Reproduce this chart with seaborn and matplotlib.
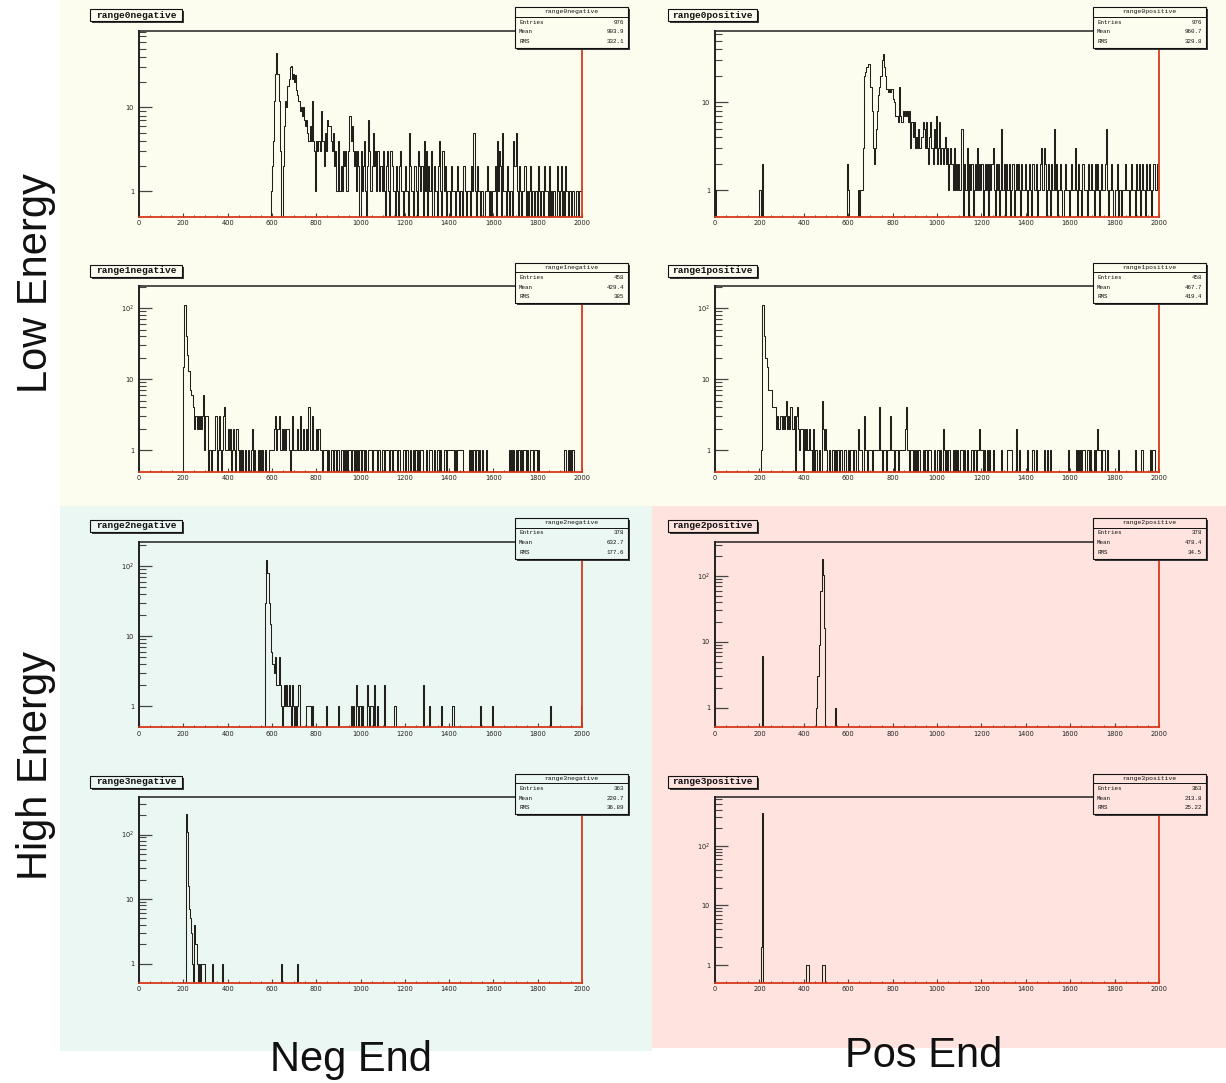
import numpy as np
import pandas as pd
import matplotlib
matplotlib.use("Agg")
import matplotlib.pyplot as plt
from matplotlib.patches import Rectangle
from matplotlib.ticker import MultipleLocator
import seaborn as sns

sns.set_style("white")
plt.rcParams["font.family"] = ["DejaVu Sans"]

# ---------------- data: counts in 5-unit bins, 0..2000 ----------------
BIN_W = 5
X_MAX = 2000

# range0negative (dense from 595)
r0neg_lo = 595
r0neg_counts = [
    1, 2, 4, 12, 25, 44, 25, 12, 3, 0, 0, 2, 6, 12, 10, 18, 22, 30, 31, 22,   # 595-690
    25, 20, 24, 16, 14, 12, 9, 10, 8, 10, 7, 6, 7, 5, 4, 6, 4, 12, 4, 3,      # 695-790
    1, 4, 3, 4, 3, 9, 4, 4, 2, 5, 3, 7, 6, 6, 4, 3, 5, 2, 3, 1,               # 795-890
    1, 4, 1, 2, 1, 3, 2, 3, 1, 1, 3, 8, 4, 6, 3, 2, 3, 1, 3, 2,               # 895-990
    0, 3, 1, 2, 4, 1, 0, 2, 7, 3, 1, 2, 5, 2, 3, 1, 3, 3, 1, 2,               # 995-1090
    1, 3, 1, 0, 2, 3, 1, 0, 3, 2, 1, 1, 0, 2, 1, 0, 2, 3, 1, 0,               # 1095-1190
    1, 2, 1, 1, 0, 5, 2, 1, 0, 2, 2, 1, 0, 3, 2, 1, 2, 0, 4, 1,               # 1195-1290
    3, 0, 2, 1, 1, 3, 0, 2, 1, 1, 0, 2, 4, 1, 0, 3, 1, 2, 0, 1,               # 1295-1390
    1, 1, 0, 2, 1, 1, 0, 1, 2, 1, 0, 1, 1, 0, 2, 1, 0, 1, 1, 1,               # 1395-1490
    0, 2, 1, 5, 1, 0, 2, 1, 1, 0, 1, 1, 0, 1, 1, 2, 1, 0, 1, 0,               # 1495-1590
    1, 1, 2, 0, 4, 1, 3, 2, 0, 5, 1, 1, 0, 2, 1, 0, 1, 1, 0, 4,               # 1595-1690
    2, 5, 1, 0, 2, 1, 0, 1, 1, 2, 0, 1, 0, 1, 2, 0, 1, 1, 0, 1,               # 1695-1790
    0, 2, 1, 0, 1, 1, 0, 2, 1, 1, 0, 2, 0, 1, 0, 1, 1, 0, 2, 1,               # 1795-1890
    0, 1, 2, 0, 1, 0, 2, 1, 0, 1, 1, 0, 1, 1, 0, 0, 1, 0, 1, 1,               # 1895-1990
    1,                                                                        # 1995
]
r0neg_iso_x = []
r0neg_iso_n = []

# range0positive
r0pos_lo = 595
r0pos_counts = [
    2, 1, 0, 0, 0, 0, 0, 0, 0, 0, 1, 0, 1, 1, 3, 20, 22, 25, 25, 27,          # 595-690
    27, 15, 8, 3, 2, 3, 5, 8, 12, 15, 20, 30, 35, 25, 20, 14, 14, 13, 14, 13, # 695-790
    14, 11, 10, 7, 7, 7, 6, 15, 7, 6, 8, 7, 8, 7, 8, 6, 8, 3, 6, 4,           # 795-890
    6, 3, 4, 3, 5, 3, 3, 4, 6, 5, 3, 6, 3, 2, 4, 6, 3, 2, 5, 3,               # 895-990
    7, 2, 3, 6, 2, 3, 2, 3, 4, 2, 3, 1, 2, 3, 2, 1, 3, 1, 2, 1,               # 995-1090
    2, 1, 1, 5, 0, 2, 1, 1, 3, 0, 2, 1, 2, 0, 1, 2, 1, 3, 1, 2,               # 1095-1190
    1, 2, 0, 1, 2, 1, 2, 0, 2, 1, 2, 3, 1, 0, 2, 1, 2, 0, 1, 5,               # 1195-1290
    1, 2, 0, 2, 1, 1, 2, 0, 1, 2, 0, 1, 2, 1, 2, 1, 0, 2, 1, 1,               # 1295-1390
    2, 1, 0, 1, 2, 1, 0, 2, 1, 1, 2, 0, 1, 1, 2, 3, 1, 3, 2, 0,               # 1395-1490
    1, 2, 1, 0, 2, 1, 5, 1, 2, 0, 1, 1, 2, 1, 0, 1, 2, 1, 1, 1,               # 1495-1590
    0, 1, 2, 1, 1, 3, 1, 0, 2, 1, 1, 0, 2, 1, 1, 1, 0, 2, 1, 1,               # 1595-1690
    2, 1, 0, 2, 1, 2, 1, 0, 1, 2, 1, 1, 2, 5, 1, 0, 1, 1, 2, 1,               # 1695-1790
    0, 1, 1, 2, 0, 1, 1, 0, 1, 1, 2, 1, 1, 1, 0, 1, 2, 1, 1, 0,               # 1795-1890
    2, 1, 1, 2, 0, 1, 2, 1, 0, 2, 1, 1, 2, 1, 0, 1, 2, 1, 1, 2,               # 1895-1990
    2,                                                                        # 1995
]
r0pos_iso_x = [0, 200, 210]
r0pos_iso_n = [1, 1, 2]

# range1negative
r1neg_lo = 195
r1neg_counts = [
    0, 15, 110, 40, 22, 13, 13, 7, 6, 6, 4, 2, 3, 2, 3, 2, 3, 2, 3, 6,   # 195-290
    1, 3, 3, 0, 1, 1, 0, 1, 1, 1, 3, 0, 1, 3, 1, 0, 1, 3, 4, 1,          # 295-390
    1, 2, 1, 2, 0, 1, 2, 1, 0, 2, 1, 0, 1, 0, 1, 0, 0, 1, 0, 1,          # 395-490
    0, 0, 1, 2, 0, 1, 0, 0, 1, 0, 1, 0, 1, 0, 0, 1, 0, 0, 1, 1,          # 495-590
    1, 1, 1, 2, 3, 1, 2, 3, 1, 1, 2, 1, 2, 1, 2, 2, 1, 0, 1, 3,          # 595-690
    1, 1, 1, 1, 2, 1, 3, 1, 1, 2, 1, 1, 2, 1, 4, 1, 1, 3, 1, 1,          # 695-790
    1, 2, 1, 2, 1, 1, 0, 1, 1, 1, 1, 0, 1, 0, 1, 1, 0, 1, 1, 0,          # 795-890
    1, 1, 0, 1, 1, 0, 1, 0, 1, 0, 1, 1, 0, 1, 1, 0, 1, 0, 1, 0,          # 895-990
    1, 0, 1, 1, 0, 1, 0, 0, 1, 1, 1, 0, 1, 1, 1, 1, 0, 1, 1, 0,          # 995-1090
    1, 1, 0, 1, 1, 1, 1, 0, 1, 0, 1, 1, 1, 1, 0, 1, 1, 0, 0, 1,          # 1095-1190
    1, 0, 1, 1, 0, 0, 1, 0, 1, 0, 1, 1, 0, 1, 0, 1, 1, 0, 0, 0,          # 1195-1290
    1, 0, 0, 1, 1, 1, 0, 1, 0, 0, 1, 1, 0, 1, 0, 0, 1, 1, 0, 1,          # 1295-1390
    1, 1, 1, 1, 1, 0, 1, 0, 1, 1, 1, 1, 1, 1, 0, 0, 0, 0, 0, 1,          # 1395-1490
    0, 1, 0, 1, 0, 1, 1, 0, 1, 0, 0, 1, 0, 0, 1, 0, 0, 0, 0, 0,          # 1495-1590
    0, 0, 0, 0, 0, 0, 0, 0, 0, 0, 0, 0, 0, 0, 0, 1, 0, 1, 0, 1,          # 1595-1690
    0, 1, 0, 1, 1, 0, 1, 0, 1, 1, 0, 1, 0, 0, 1, 1, 1, 0, 1, 1,          # 1695-1790
    0, 1, 0, 0, 0, 0, 0, 0, 0, 0, 0, 0, 0, 0, 0, 0, 0, 0, 0, 0,          # 1795-1890
    0, 0, 0, 0, 0, 1, 1, 0, 1, 0, 1, 0, 1, 1, 0, 0, 0, 0, 0, 0,          # 1895-1990
    0,
]
r1neg_iso_x = []
r1neg_iso_n = []

# range1positive
r1pos_lo = 200
r1pos_counts = [
    0, 1, 110, 110, 40, 20, 20, 15, 7, 7, 7, 4, 4, 4, 4, 2, 3, 2, 2, 3,  # 200-295
    2, 3, 2, 3, 5, 2, 3, 2, 4, 2, 2, 3, 0, 3, 4, 2, 1, 2, 2, 0,          # 300-395
    2, 1, 2, 1, 1, 2, 1, 0, 2, 0, 1, 1, 0, 0, 1, 0, 5, 2, 1, 2,          # 400-495
    1, 0, 0, 1, 0, 1, 1, 0, 1, 0, 1, 1, 0, 1, 0, 0, 1, 1, 0, 0,          # 500-595
    1, 0, 1, 1, 0, 1, 1, 0, 0, 2, 1, 1, 0, 0, 3, 1, 1, 0, 1, 1,          # 600-695
    1, 0, 1, 1, 1, 1, 1, 1, 4, 1, 0, 1, 1, 1, 0, 1, 1, 1, 3, 1,          # 700-795
    1, 0, 1, 1, 1, 0, 1, 1, 1, 1, 1, 2, 4, 1, 1, 0, 1, 1, 0, 1,          # 800-895
    0, 1, 0, 1, 1, 0, 0, 1, 0, 1, 1, 0, 1, 1, 1, 0, 0, 1, 0, 0,          # 900-995
    1, 1, 0, 1, 0, 2, 1, 0, 1, 0, 1, 1, 0, 0, 1, 0, 1, 0, 1, 0,          # 1000-1095
    0, 1, 1, 0, 1, 0, 0, 1, 0, 0, 0, 1, 0, 1, 1, 0, 1, 1, 2, 1,          # 1100-1195
    1, 0, 1, 0, 0, 1, 0, 1, 0, 0, 1, 0, 0, 0, 0, 0, 0, 0, 1, 0,          # 1200-1295
    0, 0, 0, 1, 1, 1, 1, 1, 0, 0, 0, 2, 0, 0, 1, 0, 0, 0, 0, 0,          # 1300-1395
    0, 1, 0, 0, 0, 0, 1, 0, 0, 1, 0, 0, 0, 0, 0, 0, 1, 0, 0, 1,          # 1400-1495
    0, 0, 1, 0, 0, 0, 0, 0, 0, 0, 0, 0, 0, 0, 0, 0, 0, 0, 1, 0,          # 1500-1595
    0, 0, 0, 0, 0, 1, 0, 1, 0, 1, 0, 1, 1, 0, 0, 1, 1, 0, 1, 0,          # 1600-1695
    0, 1, 0, 1, 2, 1, 1, 1, 0, 1, 1, 0, 0, 1, 0, 0, 0, 0, 0, 0,          # 1700-1795
    0, 0, 0, 1, 0, 0, 0, 0, 0, 0, 0, 0, 0, 0, 0, 0, 0, 0, 1, 0,          # 1800-1895
    0, 0, 0, 0, 1, 1, 0, 0, 0, 0, 0, 0, 1, 0, 1, 1, 0, 0, 0, 1,          # 1900-1995
]
r1pos_iso_x = []
r1pos_iso_n = []

# range2negative
r2neg_lo = 570
r2neg_counts = [
    30, 120, 80, 30, 15, 6, 4, 4, 3, 5, 2, 2, 5, 2, 1, 0, 1, 2, 1, 2,    # 570-665
    1, 2, 1, 0, 2, 1, 0, 1, 0, 1, 2, 0, 0, 0, 0, 0, 0, 1, 1, 1,          # 670-765
]
r2neg_iso_x = [770, 780, 845, 900, 955, 965, 980, 985, 995, 1005, 1030, 1035, 1045,
               1050, 1060, 1075, 1105, 1150, 1155, 1280, 1310, 1365, 1415, 1540,
               1595, 1855, 1995]
r2neg_iso_n = [1, 1, 1, 1, 1, 1, 2, 1, 1, 1, 2, 1, 1, 1, 2, 1, 2, 1, 1, 2, 1, 1, 1, 1,
               1, 1, 1]

# range2positive
r2pos_lo = 455
r2pos_counts = [1, 3, 3, 9, 60, 180, 105, 16]
r2pos_iso_x = [210, 540]
r2pos_iso_n = [6, 1]

# range3negative
r3neg_lo = 210
r3neg_counts = [205, 110, 16, 7, 5, 3, 1, 0, 4, 2, 1, 0, 1, 0, 1, 1, 1, 1]
r3neg_iso_x = [330, 375, 640, 715]
r3neg_iso_n = [1, 1, 1, 1]

# range3positive
r3pos_lo = 205
r3pos_counts = [2, 355]
r3pos_iso_x = [410, 415, 420, 480, 485, 490]
r3pos_iso_n = [1, 1, 1, 1, 1, 1]

titles = [["range0negative", "range0positive"],
          ["range1negative", "range1positive"],
          ["range2negative", "range2positive"],
          ["range3negative", "range3positive"]]
entries = [[976, 976], [458, 458], [378, 378], [363, 363]]
means = [["903.9", "960.7"], ["429.4", "467.7"], ["632.7", "478.4"], ["220.7", "213.8"]]
rms = [["332.1", "329.8"], ["385", "419.4"], ["177.6", "34.5"], ["36.89", "25.22"]]

row_labels = ["Low Energy", "High Energy"]
col_labels = ["Neg End", "Pos End"]

# ---------------- style ----------------
YELLOW = "#fdfdef"
TEAL = "#ebf7f2"
PINK = "#fee3de"
HIST_C = "#22201a"
RED = "#d8391c"
DARK = "#202020"
TICK_C = "#454545"

W, H = 1226, 1083
fig = plt.figure(figsize=(W / 100, H / 100), dpi=100)
fig.patch.set_facecolor("white")


def fx(px):
    return px / W


def fy(py):
    return 1 - py / H


def box(x0, y0, x1, y1, face, edge=None, lw=0, z=-5):
    fig.add_artist(Rectangle((fx(x0), fy(y1)), (x1 - x0) / W, (y1 - y0) / H,
                             transform=fig.transFigure, facecolor=face,
                             edgecolor=edge if edge else face, linewidth=lw,
                             zorder=z))


# background regions
box(60, 0, 1226, 506, YELLOW, z=-10)
box(60, 506, 652, 1051, TEAL, z=-10)
box(652, 506, 1226, 1048, PINK, z=-10)
bg = [[YELLOW, YELLOW], [YELLOW, YELLOW], [TEAL, PINK], [TEAL, PINK]]

col_x = [(139, 582), (715, 1159)]
row_y = [(30.7, 216.7), (286, 471.7), (541.5, 727.3), (797, 983)]
title_x = [(90, 182), (668, 757)]
stats_x = [(515, 628), (1093, 1206)]

data = {
    (0, 0): (r0neg_lo, r0neg_counts, r0neg_iso_x, r0neg_iso_n),
    (0, 1): (r0pos_lo, r0pos_counts, r0pos_iso_x, r0pos_iso_n),
    (1, 0): (r1neg_lo, r1neg_counts, r1neg_iso_x, r1neg_iso_n),
    (1, 1): (r1pos_lo, r1pos_counts, r1pos_iso_x, r1pos_iso_n),
    (2, 0): (r2neg_lo, r2neg_counts, r2neg_iso_x, r2neg_iso_n),
    (2, 1): (r2pos_lo, r2pos_counts, r2pos_iso_x, r2pos_iso_n),
    (3, 0): (r3neg_lo, r3neg_counts, r3neg_iso_x, r3neg_iso_n),
    (3, 1): (r3pos_lo, r3pos_counts, r3pos_iso_x, r3pos_iso_n),
}

edges = np.arange(0, X_MAX + BIN_W, BIN_W)
nbins = len(edges) - 1
mono = ["Liberation Mono", "DejaVu Sans Mono"]

for (r, c), (lo, dense, iso_x, iso_n) in data.items():
    hist = np.zeros(nbins)
    i0 = lo // BIN_W
    dense = np.asarray(dense, dtype=float)[: nbins - i0]
    hist[i0:i0 + len(dense)] = dense
    for xv, nv in zip(iso_x, iso_n):
        hist[xv // BIN_W] = nv
    df = pd.DataFrame({"x": edges[:-1] + BIN_W / 2, "n": hist})

    x0, x1 = col_x[c]
    yt, yb = row_y[r]
    ax = fig.add_axes([fx(x0), fy(yb), (x1 - x0) / W, (yb - yt) / H])
    ax.set_facecolor("none")
    sns.histplot(data=df, x="x", weights="n", bins=list(edges),
                 element="step", fill=False, color=HIST_C, linewidth=0.75, ax=ax)
    ax.set_yscale("log")
    ax.set_xlabel("")
    ax.set_ylabel("")

    ax.set_xticks(np.arange(0, X_MAX + 1, 200))
    ax.xaxis.set_minor_locator(MultipleLocator(50))
    ax.set_yticks([1, 10, 100], labels=["1", "10", "10$^{2}$"])
    ax.set_yticks([k * d for d in (1, 10, 100) for k in range(2, 10)], minor=True)
    # limits after the ticks, so the tick lists do not widen the view
    ax.set_xlim(0, X_MAX)
    ax.set_ylim(0.5, hist.max() * 1.86)

    ax.tick_params(left=True, bottom=True, top=False, right=False, which="both",
                   direction="in", color=TICK_C)
    ax.tick_params(axis="x", which="major", length=3, width=0.8,
                   pad=2.5, labelsize=4.8, labelcolor=DARK)
    ax.tick_params(axis="x", which="minor", length=1.8, width=0.7)
    ax.tick_params(axis="y", which="major", length=9.4, width=0.9,
                   pad=3.5, labelsize=4.8, labelcolor=DARK)
    ax.tick_params(axis="y", which="minor", length=4.7, width=0.8)
    for sp, col, lw in [("left", DARK, 1.4), ("top", DARK, 1.1),
                        ("right", RED, 1.3), ("bottom", RED, 1.3)]:
        ax.spines[sp].set_color(col)
        ax.spines[sp].set_linewidth(lw)
        ax.spines[sp].set_visible(True)

    # title box (top-left)
    tx0, tx1 = title_x[c]
    ty0, ty1 = yt - 21.5, yt - 9.5
    box(tx0 + 2, ty0 + 2, tx1 + 2, ty1 + 2, "#3a3a3a", z=4)
    box(tx0, ty0, tx1, ty1, bg[r][c], edge="#111111", lw=0.8, z=5)
    fig.text(fx((tx0 + tx1) / 2), fy((ty0 + ty1) / 2), titles[r][c],
             ha="center", va="center", fontsize=6.8, fontweight="bold",
             family=mono, color="#111111", zorder=6)

    # stats box (top-right)
    sx0, sx1 = stats_x[c]
    sy0, sy1 = yt - 23.5, yt + 17
    box(sx0 + 2, sy0 + 2, sx1 + 2, sy1 + 2, "#3a3a3a", z=4)
    box(sx0, sy0, sx1, sy1, bg[r][c], edge="#111111", lw=0.8, z=5)
    fig.add_artist(plt.Line2D([fx(sx0), fx(sx1)], [fy(yt - 14), fy(yt - 14)],
                              transform=fig.transFigure, color="#111111",
                              linewidth=0.7, zorder=6))
    fig.text(fx((sx0 + sx1) / 2), fy(yt - 18.7), titles[r][c], ha="center",
             va="center", fontsize=4.6, family=mono, color="#111111", zorder=6)
    rows = [("Entries", str(entries[r][c]), yt - 8.5),
            ("Mean", means[r][c], yt + 1.2),
            ("RMS", rms[r][c], yt + 10.5)]
    for name, val, yy in rows:
        fig.text(fx(sx0 + 4), fy(yy), name, ha="left", va="center", fontsize=4.2,
                 family=mono, color="#111111", zorder=6)
        fig.text(fx(sx1 - 4), fy(yy), val, ha="right", va="center", fontsize=4.2,
                 family=mono, color="#111111", zorder=6)

# big labels
big = ["Liberation Sans", "DejaVu Sans"]
fig.text(fx(36), fy(283), row_labels[0], rotation=90, ha="center", va="center",
         fontsize=30, family=big, color="#111111")
fig.text(fx(36), fy(766), row_labels[1], rotation=90, ha="center", va="center",
         fontsize=30, family=big, color="#111111")
fig.text(fx(351), fy(1060), col_labels[0], ha="center", va="center",
         fontsize=30, family=big, color="#111111")
fig.text(fx(924), fy(1056), col_labels[1], ha="center", va="center",
         fontsize=30, family=big, color="#111111")

fig.savefig("out.png", dpi=100, facecolor="white")
